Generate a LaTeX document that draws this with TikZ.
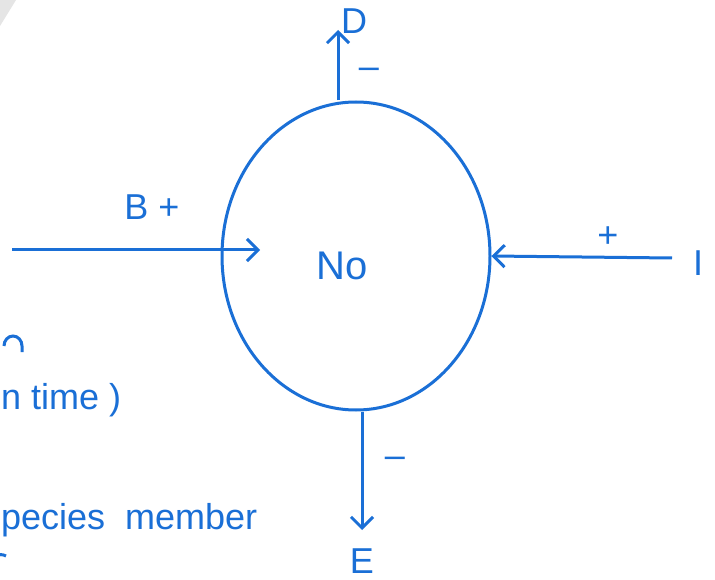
\documentclass[tikz,border=0pt]{standalone}
\usepackage{fontspec}
\setmainfont{Liberation Sans}
\usetikzlibrary{shapes.geometric,arrows.meta}
\definecolor{ink}{HTML}{1A6FD6}
\tikzset{
  pen/.style={draw=ink, line width=3pt},
  flow/.style={pen, -{Straight Barb[length=11pt,width=22pt,line width=3pt]}},
  lbl/.style={text=ink, font=\fontsize{36}{38}\selectfont, inner sep=0pt},
  frag/.style={text=ink, font=\fontsize{36}{38}\selectfont, inner sep=0pt},
  sgn/.style={text=ink, font=\fontsize{36}{38}\selectfont, inner sep=0pt},
}
\begin{document}
\begin{tikzpicture}[x=1pt,y=-1pt]
\useasboundingbox (0,0) rectangle (715,580);
\fill[white] (0,0) rectangle (715,580);
\fill[gray!20] (0,0) -- (16,0) -- (0,26) -- cycle;
% central stock
\node[pen, ellipse, minimum width=268pt, minimum height=308pt, inner sep=0pt] (No) at (356,256) {};
\node[lbl, font=\fontsize{40}{42}\selectfont] (Nolbl) at (342,266) {No};
% endpoints
\coordinate (Dtop) at (338,30);
\coordinate (Ebot) at (362,530);
\coordinate (Bstart) at (12,250);
\coordinate (Bend) at (260,250);
\coordinate (Istart) at (672,258);
% arrows
\draw[flow] (No.north -| Dtop) -- (Dtop);
\draw[flow] (No.south -| Ebot) -- (Ebot);
\draw[flow] (Bstart) -- (Bend);
\draw[flow] (Istart) -- (No.east);
% labels
\node[lbl] (D) at (354,21) {D};
\node[sgn] (Dm) at (369,73) {–};
\node[lbl] (E) at (362,561) {E};
\node[sgn] (Em) at (395,462) {–};
\node[lbl] (B) at (152,207) {B +};
\node[sgn] (Ip) at (608,237) {+};
\node[lbl] (I) at (698,263) {I};
% cut-off text fragments on the left
\draw[pen] (4,346) arc[start angle=180, end angle=0, x radius=9pt, y radius=10pt] -- ++(0,6);
\node[frag, anchor=west] (t1) at (1,400) {n time )};
\node[frag, anchor=west] (t2) at (1,520) {pecies\ \ member};
\draw[pen] (-4,556) arc[start angle=120, end angle=60, radius=10pt];
\end{tikzpicture}
\end{document}
